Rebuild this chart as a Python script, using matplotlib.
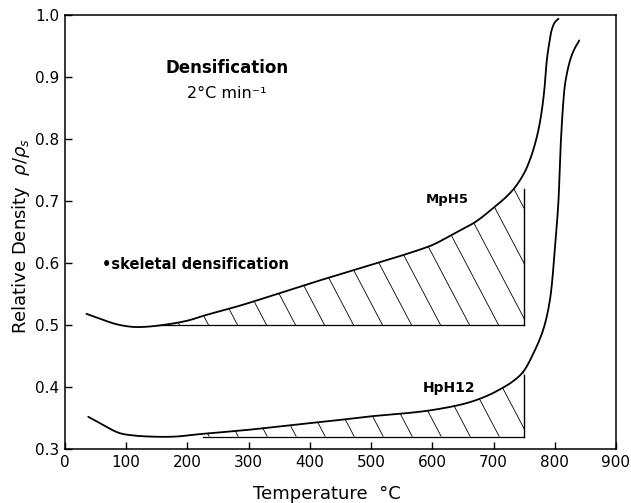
import numpy as np
import matplotlib
matplotlib.use("Agg")
import matplotlib.pyplot as plt
from matplotlib.collections import LineCollection

# ---- data ----
temp_mph5 = [35, 60, 85, 110, 130, 160, 200, 230, 285, 340, 400, 450, 500, 550,
             600, 620, 640, 670, 695, 720, 735, 750, 760, 768, 774, 779, 783, 787,
             791, 795, 800, 806]
rho_mph5 = [0.518, 0.509, 0.501, 0.497, 0.497, 0.500, 0.507, 0.516, 0.531, 0.548,
            0.567, 0.582, 0.597, 0.612, 0.629, 0.639, 0.650, 0.666, 0.685, 0.706,
            0.722, 0.745, 0.768, 0.793, 0.818, 0.847, 0.880, 0.927, 0.955, 0.976,
            0.988, 0.994]

temp_hph12 = [38, 60, 88, 110, 140, 180, 220, 300, 383, 450, 492, 550, 601, 656,
              690, 710, 730, 748, 765, 781, 792, 800, 806, 808.5, 813, 817, 825,
              832, 840]
rho_hph12 = [0.352, 0.340, 0.326, 0.322, 0.320, 0.320, 0.324, 0.331, 0.340, 0.347,
             0.352, 0.357, 0.363, 0.374, 0.386, 0.396, 0.408, 0.424, 0.454, 0.492,
             0.540, 0.621, 0.700, 0.766, 0.847, 0.890, 0.927, 0.945, 0.959]

# hatched (skeletal densification) regions: start T, end T, base density, top of closing line
hatch_mph5 = (150, 750, 0.50, 0.72)
hatch_hph12 = (225, 750, 0.32, 0.419)

x_ticks = [0, 100, 200, 300, 400, 500, 600, 700, 800, 900]
y_ticks = [0.3, 0.4, 0.5, 0.6, 0.7, 0.8, 0.9, 1.0]

plt.rcParams['font.family'] = ['DejaVu Sans']

fig = plt.figure(figsize=(6.31, 5.03), dpi=100)
ax = fig.add_axes([65 / 631, 1 - 449 / 503, (616 - 65) / 631, (449 - 15) / 503])
ax.set_xlim(0, 900)
ax.set_ylim(0.3, 1.0)


def smooth(T, rho, n=16):
    """Centripetal Catmull-Rom through the data points, computed in display space."""
    P = ax.transData.transform(np.column_stack([T, rho]))
    P = np.vstack([2 * P[0] - P[1], P, 2 * P[-1] - P[-2]])
    out = []
    for i in range(1, len(P) - 2):
        p0, p1, p2, p3 = P[i - 1], P[i], P[i + 1], P[i + 2]
        t0 = 0.0
        t1 = t0 + np.linalg.norm(p1 - p0) ** 0.5
        t2 = t1 + np.linalg.norm(p2 - p1) ** 0.5
        t3 = t2 + np.linalg.norm(p3 - p2) ** 0.5
        t = np.linspace(t1, t2, n, endpoint=False)[:, None]
        A1 = (t1 - t) / (t1 - t0) * p0 + (t - t0) / (t1 - t0) * p1
        A2 = (t2 - t) / (t2 - t1) * p1 + (t - t1) / (t2 - t1) * p2
        A3 = (t3 - t) / (t3 - t2) * p2 + (t - t2) / (t3 - t2) * p3
        B1 = (t2 - t) / (t2 - t0) * A1 + (t - t0) / (t2 - t0) * A2
        B2 = (t3 - t) / (t3 - t1) * A2 + (t - t1) / (t3 - t1) * A3
        out.append((t2 - t) / (t2 - t1) * B1 + (t - t1) / (t2 - t1) * B2)
    out.append(P[-2][None])
    D = ax.transData.inverted().transform(np.vstack(out))
    return D[:, 0], D[:, 1]


lw = 1.3
sm_mph5 = smooth(temp_mph5, rho_mph5)
sm_hph12 = smooth(temp_hph12, rho_hph12)
ax.plot(*sm_mph5, color='black', lw=lw, solid_capstyle='round')
ax.plot(*sm_hph12, color='black', lw=lw, solid_capstyle='round')


def hatch_region(curve, spec):
    x0, x1, base, top = spec
    cx, cy = curve
    xs = np.linspace(x0, x1, 400)
    ys = np.interp(xs, cx, cy)
    poly = ax.fill_between(xs, base, ys, facecolor='none', edgecolor='none')
    w_px, h_px = 551.0, 434.0
    slope_px = 1.9
    dx_top = h_px / slope_px / w_px
    spacing = 29.0 / w_px
    starts = np.arange(-0.2, 1.6, spacing)
    segs = [[(c, 0.0), (c - dx_top, 1.0)] for c in starts]
    lc = LineCollection(segs, colors='black', linewidths=0.6, transform=ax.transAxes)
    ax.add_collection(lc)
    lc.set_clip_path(poly.get_paths()[0], poly.get_transform())
    ax.plot([x0, x1], [base, base], color='black', lw=0.9)
    ax.plot([x1, x1], [base, top], color='black', lw=1.0)


hatch_region(sm_mph5, hatch_mph5)
hatch_region(sm_hph12, hatch_hph12)

for s in ax.spines.values():
    s.set_linewidth(1.1)
ax.set_xticks(x_ticks)
ax.set_yticks(y_ticks)
ax.set_xticklabels([str(v) for v in x_ticks])
ax.set_yticklabels([f"{v:.1f}" for v in y_ticks])
ax.tick_params(axis='both', direction='in', length=5, width=1.0, labelsize=11,
               top=False, right=False, pad=4)

ax.set_xlabel("Temperature  °C", fontsize=13)
ax.xaxis.set_label_coords(0.475, -0.082)
ax.set_ylabel(r"Relative Density  $\rho/\rho_s$", fontsize=13)
ax.yaxis.set_label_coords(-0.06, 0.49)

ax.text(264, 0.914, "Densification", ha='center', va='center', fontsize=12,
        fontweight='bold')
ax.text(264, 0.874, "2°C min⁻¹", ha='center', va='center', fontsize=11.5)
ax.text(624, 0.702, "MpH5", ha='center', va='center', fontsize=9.5, fontweight='bold')
ax.text(627, 0.398, "HpH12", ha='center', va='center', fontsize=10, fontweight='bold')
ax.text(61, 0.597, "•skeletal densification", ha='left', va='center', fontsize=10.5,
        fontweight='bold')

fig.savefig("out.png", dpi=100)
